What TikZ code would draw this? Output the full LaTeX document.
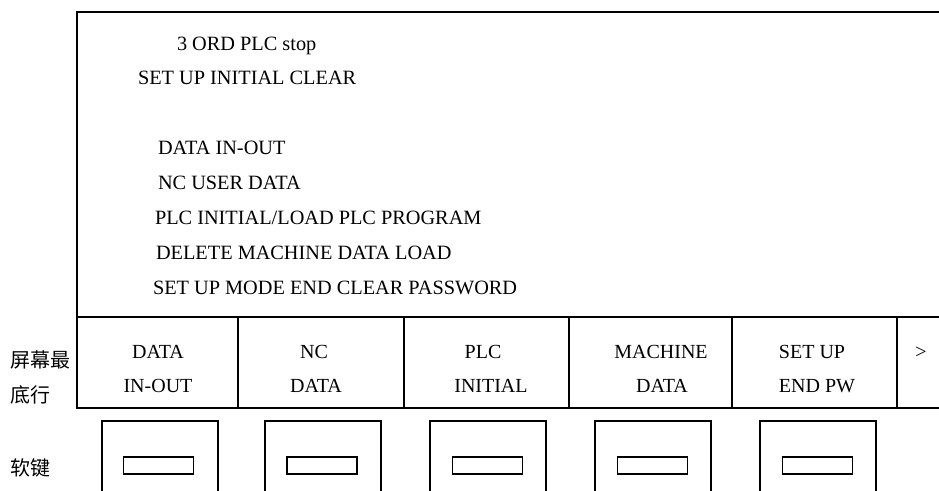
\documentclass[tikz,border=0pt]{standalone}
\usepackage{fontspec}
\setmainfont{Liberation Serif}
\newfontfamily\cjk{Noto Sans CJK SC}
\begin{document}
\begin{tikzpicture}[x=1pt,y=-1pt,
  every node/.style={inner sep=0pt,outer sep=0pt},
  frame/.style={draw,line width=1.2pt},
  txt/.style={font=\fontsize{20.3}{24}\selectfont,anchor=base west},
  ctxt/.style={font=\fontsize{20}{24}\selectfont,anchor=base},
  zh/.style={font=\cjk\fontsize{20}{24}\selectfont,anchor=west},
  cell/.style={frame,minimum height=91pt},
  keybox/.style={frame,minimum width=116pt,minimum height=90pt,anchor=north west},
  keybar/.style={frame,minimum width=70pt,minimum height=17pt}]
\useasboundingbox (0,0) rectangle (939,490);
\clip (0,0) rectangle (939,490);
% screen
\node[frame,anchor=north west,minimum width=880pt,minimum height=305pt] (screen) at (77,12) {};
\node[txt] (l1) at (177,50.5) {3 ORD PLC stop};
\node[txt] (l2) at (138,84) {SET UP INITIAL CLEAR};
\node[txt] (l3) at (158,154) {DATA IN-OUT};
\node[txt] (l4) at (158,189) {NC USER DATA};
\node[txt] (l5) at (155,224) {PLC INITIAL/LOAD PLC PROGRAM};
\node[txt] (l6) at (156,259) {DELETE MACHINE DATA LOAD};
\node[txt] (l7) at (153,294) {SET UP MODE END CLEAR PASSWORD};
% soft key labels row
\node[cell,minimum width=161pt,anchor=north west] (c1) at (77,317) {};
\node[cell,minimum width=166pt,anchor=north west] (c2) at (238,317) {};
\node[cell,minimum width=165pt,anchor=north west] (c3) at (404,317) {};
\node[cell,minimum width=163pt,anchor=north west] (c4) at (569,317) {};
\node[cell,minimum width=165pt,anchor=north west] (c5) at (732,317) {};
\node[cell,minimum width=60pt,anchor=north west] (c6) at (897,317) {};
\node[ctxt] (t1a) at (158,358.5) {DATA};
\node[ctxt] (t1b) at (158,392.5) {IN-OUT};
\node[ctxt] (t2a) at (314,358.5) {NC};
\node[ctxt] (t2b) at (316,392.5) {DATA};
\node[ctxt] (t3a) at (483,358.5) {PLC};
\node[ctxt] (t3b) at (491,392.5) {INITIAL};
\node[ctxt] (t4a) at (661,358.5) {MACHINE};
\node[ctxt] (t4b) at (662,392.5) {DATA};
\node[ctxt] (t5a) at (812,358.5) {SET UP};
\node[ctxt] (t5b) at (817,392.5) {END PW};
\node[ctxt] (t6) at (921,358.5) {>};
% left labels
\node[zh] (z1) at (10,360) {屏幕最};
\node[zh] (z2) at (10,395) {底行};
\node[zh] (z3) at (10,468) {软键};
% soft keys
\node[keybox] (k1) at (102,421) {};
\node[keybox] (k2) at (265,421) {};
\node[keybox] (k3) at (430,421) {};
\node[keybox] (k4) at (595,421) {};
\node[keybox] (k5) at (760,421) {};
\node[keybar] (b1) at (158.5,465.5) {};
\node[keybar] (b2) at (322,465.5) {};
\node[keybar] (b3) at (487.5,465.5) {};
\node[keybar] (b4) at (652.5,465.5) {};
\node[keybar] (b5) at (817.5,465.5) {};
\end{tikzpicture}
\end{document}
